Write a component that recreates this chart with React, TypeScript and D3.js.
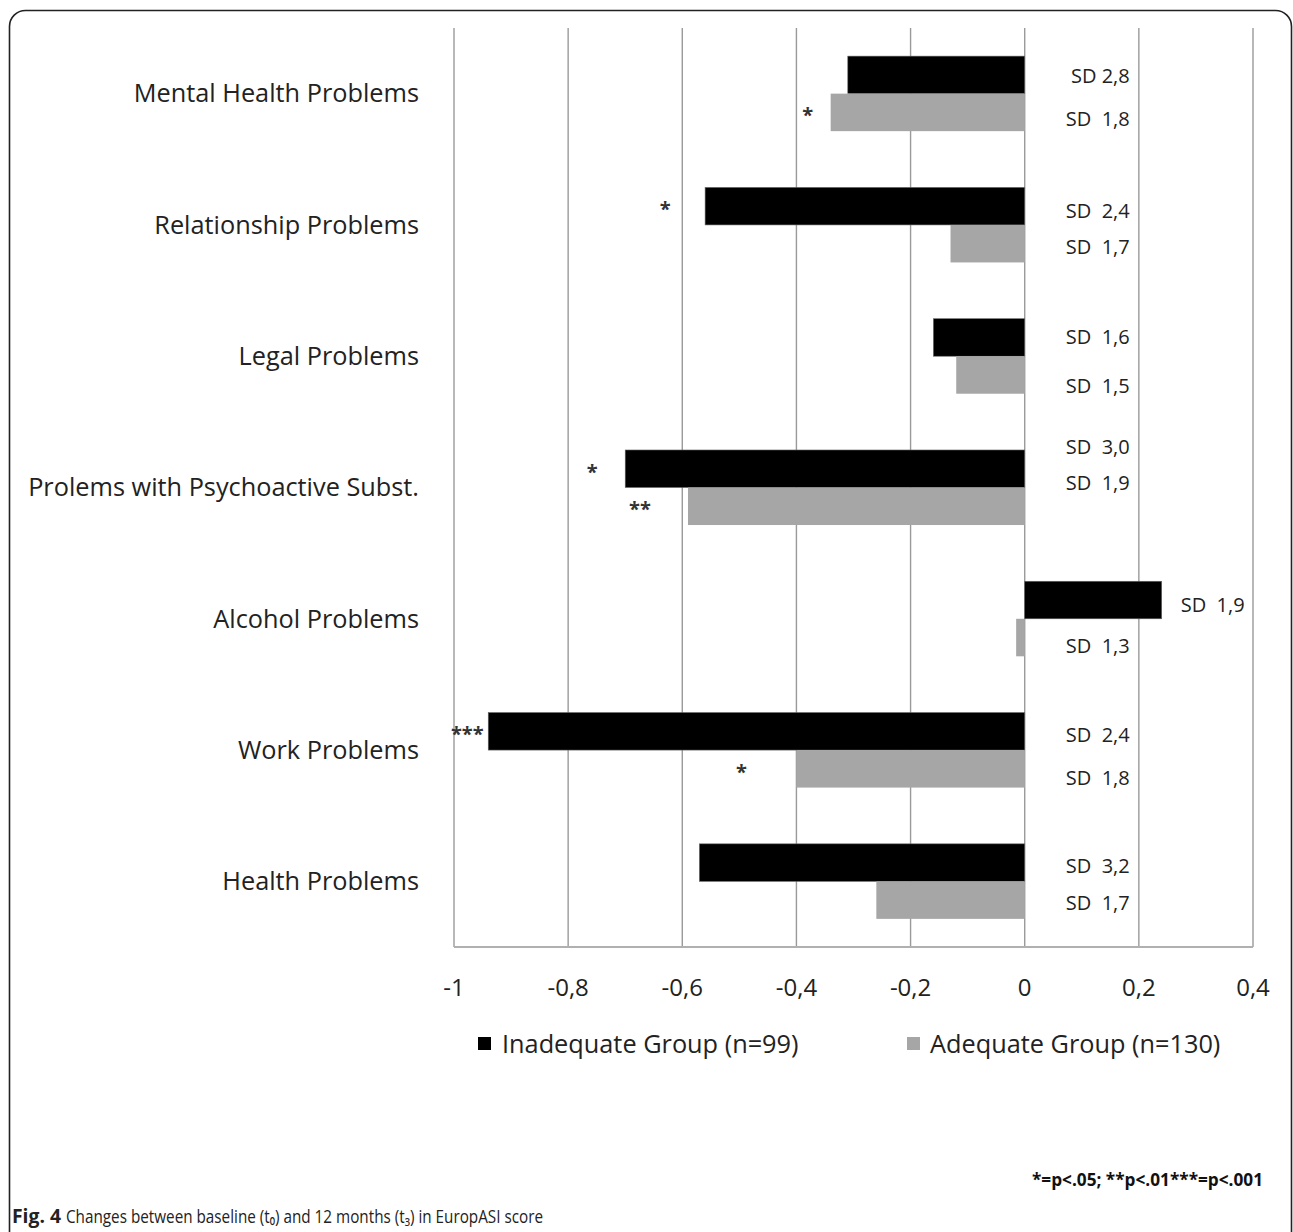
import React from "react";
import * as d3 from "d3";

const categories = [
  "Mental Health Problems",
  "Relationship Problems",
  "Legal Problems",
  "Prolems with Psychoactive Subst.",
  "Alcohol Problems",
  "Work Problems",
  "Health Problems",
];
const inadequate = [-0.31, -0.56, -0.16, -0.7, 0.24, -0.94, -0.57];
const adequate = [-0.34, -0.13, -0.12, -0.59, -0.015, -0.4, -0.26];
const inadequateSD = ["SD 2,8", "SD  2,4", "SD  1,6", "SD  3,0", "SD  1,9", "SD  2,4", "SD  3,2"];
const adequateSD = ["SD  1,8", "SD  1,7", "SD  1,5", "SD  1,9", "SD  1,3", "SD  1,8", "SD  1,7"];
const inadequateSig = ["", "*", "", "*", "", "***", ""];
const adequateSig = ["*", "", "", "**", "", "*", ""];
const tickValues = [-1, -0.8, -0.6, -0.4, -0.2, 0, 0.2, 0.4];
const seriesNames = ["Inadequate Group (n=99)", "Adequate Group (n=130)"];

// layout-only nudges (pixels, relative to bar centres)
const sdNudgeInad = [1, 5, 0, -22, 5, 4, 3];
const sdNudgeAdeq = [7, 3, 11, -23, 8, 9, 3];
const sigOffsetInad = [0, 40, 0, 33, 0, 21, 0];
const sigOffsetAdeq = [23, 0, 0, 48, 0, 55, 0];

const FONT = "'Open Sans', 'Noto Sans', sans-serif";
const BLACK = "#000000";
const GRAY = "#a6a6a6";

export default function App() {
  const W = 1293;
  const H = 1232;
  const x = d3.scaleLinear().domain([-1, 0.4]).range([454, 1253]);
  const y = d3.scaleBand<string>().domain(categories).range([28, 947]).padding(0);
  const sub = d3
    .scaleBand<string>()
    .domain(["inad", "adeq"])
    .range([0, y.step()])
    .paddingInner(0)
    .paddingOuter(0.75);
  const loc = d3.formatLocale({
    decimal: ",",
    thousands: ".",
    grouping: [3],
    currency: ["", ""],
    minus: "-",
  });
  const fmt = loc.format("~g");
  const bh = sub.bandwidth();

  const series = [
    { key: "inad", values: inadequate, sd: inadequateSD, sig: inadequateSig, color: BLACK, sdN: sdNudgeInad, sigO: sigOffsetInad },
    { key: "adeq", values: adequate, sd: adequateSD, sig: adequateSig, color: GRAY, sdN: sdNudgeAdeq, sigO: sigOffsetAdeq },
  ];

  return (
    <svg
      width={W}
      height={H}
      style={{ position: "absolute", left: 0, top: 0, background: "#fff" }}
      fontFamily={FONT}
    >
      <rect x={9.5} y={10.5} width={1282} height={1260} rx={16} ry={16} fill="#fff" stroke="#222" strokeWidth={1.6} />

      {/* gridlines */}
      {tickValues.map((t) => (
        <line key={t} x1={x(t)} x2={x(t)} y1={28} y2={947} stroke="#9a9a9a" strokeWidth={1.4} />
      ))}
      <line x1={x(-1)} x2={x(0.4)} y1={947} y2={947} stroke="#b0b0b0" strokeWidth={2} />

      {/* bars */}
      {series.map((s) =>
        categories.map((c, i) => {
          const v = s.values[i];
          const y0 = (y(c) as number) + (sub(s.key) as number);
          return (
            <rect
              key={s.key + c}
              x={Math.min(x(v), x(0))}
              y={y0}
              width={Math.abs(x(v) - x(0))}
              height={bh}
              fill={s.color}
              stroke={s.key === "inad" ? "#666" : "none"}
              strokeWidth={0.6}
            />
          );
        })
      )}

      {/* SD labels */}
      {series.map((s) =>
        categories.map((c, i) => {
          const v = s.values[i];
          const cy = (y(c) as number) + (sub(s.key) as number) + bh / 2 + s.sdN[i];
          const pos = v > 0;
          return (
            <text
              key={"sd" + s.key + c}
              x={pos ? x(v) + 19 : x(0) + 105}
              y={cy}
              dy="0.35em"
              textAnchor={pos ? "start" : "end"}
              fontSize={20}
              fill="#222"
              style={{ whiteSpace: "pre" }}
            >
              {s.sd[i]}
            </text>
          );
        })
      )}

      {/* significance stars */}
      {series.map((s) =>
        categories.map((c, i) => {
          if (!s.sig[i]) return null;
          const v = s.values[i];
          const cy = (y(c) as number) + (sub(s.key) as number) + bh / 2;
          return (
            <text
              key={"sig" + s.key + c}
              x={x(v) - s.sigO[i]}
              y={cy + 10}
              textAnchor="middle"
              fontSize={20}
              fontWeight="bold"
              fill="#333"
            >
              {s.sig[i]}
            </text>
          );
        })
      )}

      {/* category labels */}
      {categories.map((c) => (
        <text
          key={"cat" + c}
          x={419}
          y={(y(c) as number) + y.step() / 2}
          dy="0.35em"
          textAnchor="end"
          fontSize={25.3}
          fill="#222"
        >
          {c}
        </text>
      ))}

      {/* tick labels */}
      {tickValues.map((t) => (
        <text key={"t" + t} x={x(t)} y={988} dy="0.35em" textAnchor="middle" fontSize={24} fill="#222">
          {fmt(t)}
        </text>
      ))}

      {/* legend */}
      <rect x={478} y={1037} width={13} height={13} fill={BLACK} />
      <text x={502} y={1044} dy="0.35em" fontSize={25.3} fill="#222">
        {seriesNames[0]}
      </text>
      <rect x={907} y={1037} width={13} height={13} fill={GRAY} />
      <text x={930} y={1044} dy="0.35em" fontSize={25.3} fill="#222">
        {seriesNames[1]}
      </text>

      {/* footnote */}
      <text
        x={1032}
        y={1180}
        dy="0.35em"
        fontSize={17}
        fontWeight="bold"
        fill="#111"
        textLength={231}
        lengthAdjust="spacingAndGlyphs"
      >
        *=p&lt;.05; **p&lt;.01***=p&lt;.001
      </text>

      {/* caption */}
      <text x={12} y={1216} dy="0.35em" fontSize={19} fontWeight="bold" fill="#222" textLength={49} lengthAdjust="spacingAndGlyphs">
        Fig. 4
      </text>
      <text x={66} y={1216} dy="0.35em" fontSize={19} fill="#222" textLength={477} lengthAdjust="spacingAndGlyphs">
        Changes between baseline (t₀) and 12 months (t₃) in EuropASI score
      </text>
    </svg>
  );
}
